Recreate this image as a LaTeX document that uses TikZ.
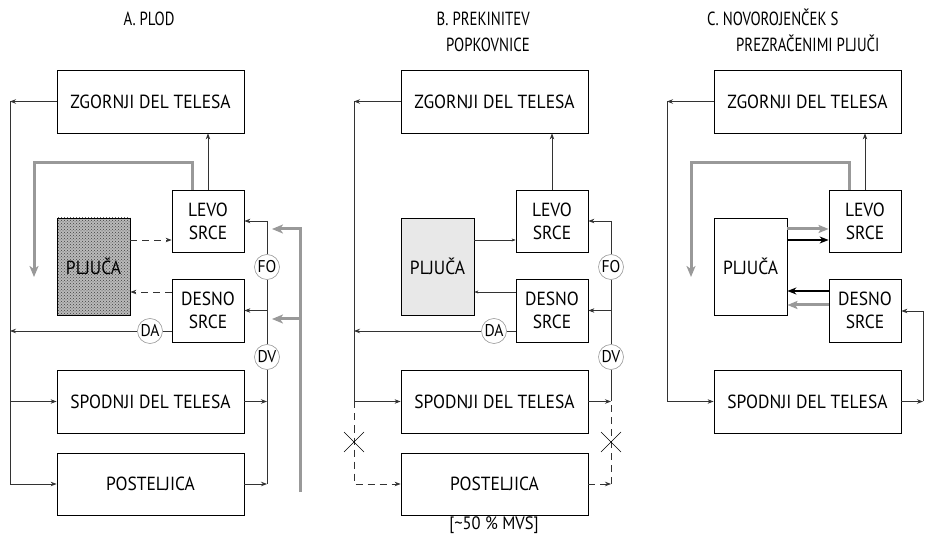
\documentclass[tikz,border=0pt]{standalone}
\usepackage{fontspec}
\setmainfont{PT Sans}
\newfontfamily\boxfont[FakeStretch=0.92]{PT Sans}
\newfontfamily\condfont[FakeStretch=0.78]{PT Sans}
\usetikzlibrary{arrows.meta,patterns}
\definecolor{lnc}{HTML}{333333}
\definecolor{gth}{HTML}{999999}
\definecolor{circ}{HTML}{9A9A9A}
\tikzset{
  box/.style={draw=black,line width=0.8pt,fill=white,inner sep=0pt,align=center,font=\boxfont\fontsize{19}{23}\selectfont},
  wbox/.style={box,minimum width=187pt,minimum height=63pt},
  hbox/.style={box,minimum width=72pt,minimum height=62pt},
  lbox/.style={box,minimum width=73pt,minimum height=97pt},
  valve/.style={circle,draw=circ,line width=0.6pt,fill=white,inner sep=0pt,minimum size=25pt,font=\boxfont\fontsize{17}{17}\selectfont},
  ln/.style={draw=lnc,line width=0.8pt},
  arr/.style={ln,-{Stealth[length=6pt,width=4.5pt]}},
  dsh/.style={dash pattern=on 7pt off 5pt},
  gthick/.style={draw=gth,line width=3pt,-{Stealth[length=11pt,width=9pt,inset=3pt]}},
  gline/.style={draw=gth,line width=3pt},
  bigarr/.style={draw=black,line width=1.5pt,-{Stealth[length=9pt,width=7pt]}},
  gbigarr/.style={draw=gth,line width=3pt,-{Stealth[length=10pt,width=8pt,inset=2pt]}},
  ttl/.style={inner sep=0pt,font=\condfont\fontsize{19}{22}\selectfont},
  xmark/.style={draw=black,line width=0.6pt}
}
\begin{document}
\begin{tikzpicture}[x=1pt,y=-1pt]
\useasboundingbox (0,0) rectangle (927,537);
% ---------- titles
\node[ttl,anchor=base] (tA) at (149,26) {A. PLOD};
\node[ttl,anchor=base east] (tB1) at (530,26) {B. PREKINITEV};
\node[ttl,anchor=base east] (tB2) at (530,52) {POPKOVNICE};
\node[ttl,anchor=base west] (tC1) at (707,26) {C. NOVOROJENČEK S};
\node[ttl,anchor=base west] (tC2) at (736,52) {PREZRAČENIMI PLJUČI};

% ================= PANEL A
\node[wbox] (aZ) at (150.5,101.5) {ZGORNJI DEL TELESA};
\node[hbox] (aL) at (208,221) {LEVO\\SRCE};
\node[lbox,preaction={fill=gray!55},pattern=crosshatch dots,pattern color=black!75] (aPl) at (93.5,266.5) {PLJUČA};
\node[hbox,minimum height=63pt] (aD) at (208,310.5) {DESNO\\SRCE};
\node[wbox] (aS) at (150.5,401.5) {SPODNJI DEL TELESA};
\node[wbox,minimum height=62pt] (aP) at (150.5,484) {POSTELJICA};
\coordinate (aTL) at (10,101.5);
\coordinate (aBL) at (10,484);
\coordinate (aTR) at (267,221);
\coordinate (aBR) at (267,484);
\node[valve] (aFO) at (267,267) {FO};
\node[valve] (aDV) at (267,357) {DV};
\node[valve] (aDA) at (150,331) {DA};
\draw[arr] (aZ.west) -- (aTL);
\draw[ln] (aTL) -- (aBL);
\draw[arr] (aTL |- aS) -- (aS.west);
\draw[arr] (aBL) -- (aP.west);
\draw[arr] (aL.north) -- (aL.north |- aZ.south);
\draw[ln] (aTR) -- (aFO);
\draw[ln] (aFO) -- (aDV);
\draw[ln] (aDV) -- (aBR);
\draw[arr] (aTR) -- (aL.east);
\draw[arr] (aFO |- aD.east) -- (aD.east);
\draw[arr] (aS.east) -- (aFO |- aS.east);
\draw[arr] (aP.east) -- (aBR);
\draw[ln] (aD.west |- aDA) -- (aDA);
\draw[arr] (aDA) -- (aTL |- aDA);
\draw[arr,dsh] (aPl.east |- 0,240) -- (aL.west |- 0,240);
\draw[arr,dsh] (aD.west |- 0,292) -- (aPl.east |- 0,292);
\coordinate (aG1) at (192,163);
\coordinate (aG2) at (34,163);
\coordinate (aG3) at (34,277);
\draw[gthick] (aL.north -| aG1) -- (aG1) -- (aG2) -- (aG3);
\coordinate (aU0) at (300,492);
\coordinate (aU1) at (300,229);
\coordinate (aU2) at (272,229);
\coordinate (aU3) at (272,319);
\draw[gthick] (aU0) -- (aU1) -- (aU2);
\draw[gthick] (aU0 |- aU3) -- (aU3);

% ================= PANEL B
\node[wbox] (bZ) at (494.5,101.5) {ZGORNJI DEL TELESA};
\node[hbox] (bL) at (552,221) {LEVO\\SRCE};
\node[lbox,fill=gray!18] (bPl) at (437.5,266.5) {PLJUČA};
\node[hbox,minimum height=63pt] (bD) at (552,310.5) {DESNO\\SRCE};
\node[wbox] (bS) at (494.5,401.5) {SPODNJI DEL TELESA};
\node[wbox,minimum height=62pt] (bP) at (494.5,484) {POSTELJICA};
\node[inner sep=0pt,anchor=base,font=\boxfont\fontsize{18}{20}\selectfont] (bMVS) at (494,529) {[\char"007E 50 \% MVS]};
\coordinate (bTL) at (354,101.5);
\coordinate (bML) at (354,401.5);
\coordinate (bBL) at (354,484);
\coordinate (bTR) at (611,221);
\coordinate (bMR) at (611,401.5);
\coordinate (bBR) at (611,484);
\node[valve] (bFO) at (611,267) {FO};
\node[valve] (bDV) at (611,357) {DV};
\node[valve] (bDA) at (494,331) {DA};
\draw[arr] (bZ.west) -- (bTL);
\draw[ln] (bTL) -- (bML);
\draw[arr] (bML) -- (bS.west);
\draw[arr,dsh] (bML) -- (bBL) -- (bP.west);
\draw[arr] (bL.north) -- (bL.north |- bZ.south);
\draw[ln] (bTR) -- (bFO);
\draw[ln] (bFO) -- (bDV);
\draw[ln] (bDV) -- (bMR);
\draw[arr] (bTR) -- (bL.east);
\draw[arr] (bFO |- bD.east) -- (bD.east);
\draw[arr] (bS.east) -- (bMR);
\draw[arr,dsh] (bP.east) -- (bBR);
\draw[ln,dsh] (bBR) -- (bMR);
\draw[ln] (bD.west |- bDA) -- (bDA);
\draw[arr] (bDA) -- (bTL |- bDA);
\draw[ln,line width=0.6pt,-{Stealth[length=4pt,width=3pt]}] (bPl.east |- 0,240) -- (bL.west |- 0,240);
\draw[ln,line width=0.6pt,-{Stealth[length=4pt,width=3pt]}] (bD.west |- 0,292) -- (bPl.east |- 0,292);
\coordinate (bX1) at (354,442);
\coordinate (bX2) at (611,442);
\draw[xmark] ([shift={(-10,-10)}]bX1) -- ([shift={(10,10)}]bX1);
\draw[xmark] ([shift={(-10,10)}]bX1) -- ([shift={(10,-10)}]bX1);
\draw[xmark] ([shift={(-10,-10)}]bX2) -- ([shift={(10,10)}]bX2);
\draw[xmark] ([shift={(-10,10)}]bX2) -- ([shift={(10,-10)}]bX2);

% ================= PANEL C
\node[wbox] (cZ) at (807.5,101.5) {ZGORNJI DEL TELESA};
\node[hbox] (cL) at (865,221) {LEVO\\SRCE};
\node[lbox] (cPl) at (750.5,266.5) {PLJUČA};
\node[hbox,minimum height=63pt] (cD) at (865,310.5) {DESNO\\SRCE};
\node[wbox] (cS) at (807.5,401.5) {SPODNJI DEL TELESA};
\coordinate (cTL) at (667,101.5);
\coordinate (cML) at (667,401.5);
\coordinate (cMR) at (923,401.5);
\coordinate (cTR) at (923,311);
\draw[arr] (cZ.west) -- (cTL);
\draw[ln] (cTL) -- (cML);
\draw[arr] (cML) -- (cS.west);
\draw[arr] (cL.north) -- (cL.north |- cZ.south);
\draw[arr] (cS.east) -- (cMR);
\draw[ln] (cMR) -- (cTR);
\draw[arr] (cTR) -- (cD.east |- cTR);
\coordinate (cG1) at (849,163);
\coordinate (cG2) at (691,163);
\coordinate (cG3) at (691,277);
\draw[gthick] (cL.north -| cG1) -- (cG1) -- (cG2) -- (cG3);
\draw[gbigarr] (cPl.east |- 0,229) -- (cL.west |- 0,229);
\draw[bigarr] (cPl.east |- 0,240) -- (cL.west |- 0,240);
\draw[bigarr] (cD.west |- 0,291) -- (cPl.east |- 0,291);
\draw[gbigarr] (cD.west |- 0,305) -- (cPl.east |- 0,305);
\end{tikzpicture}
\end{document}
